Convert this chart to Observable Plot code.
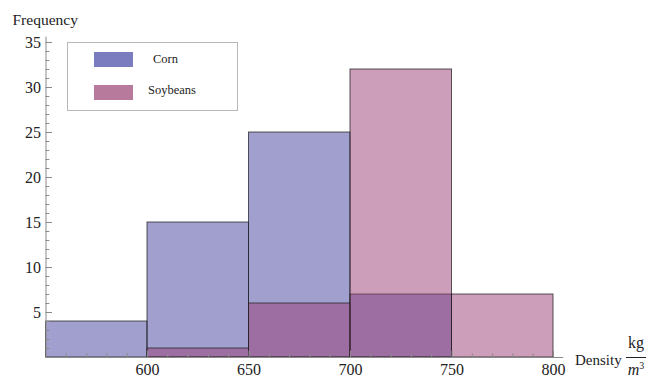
<!DOCTYPE html>
<html>
<head>
<meta charset="utf-8">
<script src="https://cdn.jsdelivr.net/npm/d3@7"></script>
<script src="https://cdn.jsdelivr.net/npm/@observablehq/plot@0.6"></script>
<style>
  html, body { margin: 0; padding: 0; background: #fff; }
  #chart { position: relative; width: 655px; height: 379px; font-family: "Liberation Serif", "Times New Roman", serif; color: #222; overflow: hidden; }
  #chart svg { position: absolute; left: 0; top: 0; }
  .lbl { position: absolute; font-family: "Liberation Serif", serif; font-size: 15.5px; line-height: 16px; white-space: nowrap; }
  .legend { position: absolute; left: 67px; top: 42px; width: 169px; height: 67px; border: 1px solid #b8b8b8; background: #fff; }
  .legend .sw { position: absolute; left: 26px; width: 39px; height: 15px; }
  .legend .tx { position: absolute; font-family: "Liberation Serif", serif; font-size: 12.5px; line-height: 12.5px; white-space: nowrap; }
  .frac { position: absolute; left: 626px; width: 20px; text-align: center; font-family: "Liberation Serif", serif; font-size: 16px; line-height: 16px; }
  .bar { position: absolute; left: 626px; top: 357px; width: 20px; height: 1px; background: #222; }
</style>
</head>
<body>
<div id="chart"></div>
<script>
// Bin edges (kg/m^3) and counts per bin for each crop
const binStart = [550, 600, 650, 700, 750];
const binEnd   = [600, 650, 700, 750, 800];
const cornCounts     = [4, 15, 25, 7, 0];
const soybeanCounts  = [0, 1, 6, 32, 7];

const series = ["Corn", "Soybeans"];
const seriesColors = ["#413f9d", "#993d73"];
const legendColors = ["#7b7bbf", "#b77a9c"];

const xMajorTicks = [600, 650, 700, 750, 800];
const yMajorTicks = [5, 10, 15, 20, 25, 30, 35];

// Histogram rows; empty bins are skipped
const bins = [];
binStart.forEach((x1, i) => {
  if (cornCounts[i] > 0) bins.push({series: "Corn", x1, x2: binEnd[i], count: cornCounts[i]});
});
binStart.forEach((x1, i) => {
  if (soybeanCounts[i] > 0) bins.push({series: "Soybeans", x1, x2: binEnd[i], count: soybeanCounts[i]});
});

const xMinorTicks = d3.range(560, 801, 10).filter(v => !xMajorTicks.includes(v));
const yMinorTicks = d3.range(1, 35, 1).filter(v => !yMajorTicks.includes(v));

const serif = "Liberation Serif";

const plot = Plot.plot({
  width: 655,
  height: 379,
  marginLeft: 45.5,
  marginRight: 102,
  marginTop: 42,
  marginBottom: 22,
  x: {domain: [550, 800], axis: null},
  y: {domain: [0, 35], axis: null},
  color: {domain: series, range: seriesColors},
  style: {fontFamily: serif, fontSize: "16px", background: "transparent", overflow: "visible"},
  marks: [
    Plot.rectY(bins, {
      x1: "x1", x2: "x2", y1: 0, y2: "count",
      fill: "series", fillOpacity: 0.5,
      stroke: "#222", strokeOpacity: 0.75, strokeWidth: 1
    }),
    // axis lines
    Plot.ruleY([0], {x1: 550, x2: 805, stroke: "#8a8a8a", strokeWidth: 1}),
    Plot.ruleX([550], {y1: 0, y2: 35.6, stroke: "#8a8a8a", strokeWidth: 1}),
    // x ticks pointing inward
    Plot.ruleX(xMajorTicks, {x: d => d, y1: 0, y2: 0.7, stroke: "#8a8a8a"}),
    Plot.ruleX(xMinorTicks, {x: d => d, y1: 0, y2: 0.4, stroke: "#8a8a8a"}),
    // y ticks pointing inward
    Plot.ruleY(yMajorTicks, {y: d => d, x1: 550, x2: 553.2, stroke: "#8a8a8a"}),
    Plot.ruleY(yMinorTicks, {y: d => d, x1: 550, x2: 551.9, stroke: "#8a8a8a"}),
    // tick labels
    Plot.text(xMajorTicks, {x: d => d, y: 0, dy: 12, text: d => String(d), fill: "#222", fontFamily: serif, fontSize: 16}),
    Plot.text(yMajorTicks, {x: 550, y: d => d, dx: -5, textAnchor: "end", text: d => String(d), fill: "#222", fontFamily: serif, fontSize: 16})
  ]
});

const chart = document.getElementById("chart");
chart.appendChild(plot);

function addLabel(text, left, top, size) {
  const el = document.createElement("div");
  el.className = "lbl";
  el.textContent = text;
  el.style.left = left + "px";
  el.style.top = top + "px";
  if (size) el.style.fontSize = size + "px";
  chart.appendChild(el);
}
addLabel("Frequency", 12.5, 11.5);
addLabel("Density", 575, 352, 15);

// unit fraction kg / m^3
const num = document.createElement("div");
num.className = "frac";
num.style.top = "334.5px";
num.textContent = "kg";
chart.appendChild(num);
const bar = document.createElement("div");
bar.className = "bar";
chart.appendChild(bar);
const den = document.createElement("div");
den.className = "frac";
den.style.top = "361.5px";
den.innerHTML = '<i>m</i><sup style="font-size:10px;line-height:0;">3</sup>';
chart.appendChild(den);

// legend box
const legend = document.createElement("div");
legend.className = "legend";
series.forEach((name, i) => {
  const sw = document.createElement("div");
  sw.className = "sw";
  sw.style.top = (9 + i * 33) + "px";
  sw.style.background = legendColors[i];
  legend.appendChild(sw);
  const tx = document.createElement("div");
  tx.className = "tx";
  tx.textContent = name;
  tx.style.left = (i === 0 ? 85 : 80) + "px";
  tx.style.top = (9.5 + i * 31) + "px";
  legend.appendChild(tx);
});
chart.appendChild(legend);
</script>
</body>
</html>
